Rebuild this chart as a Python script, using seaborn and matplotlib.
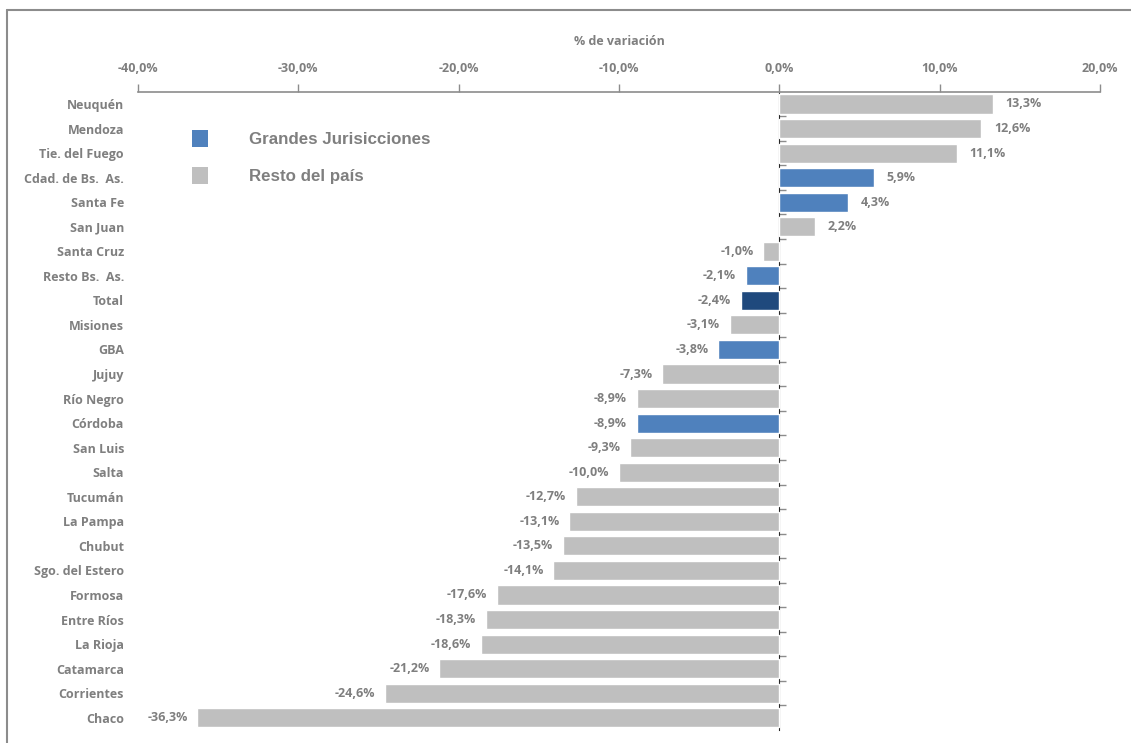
import matplotlib
matplotlib.use('Agg')
import matplotlib.pyplot as plt
import matplotlib.ticker as mticker
from matplotlib.lines import Line2D
from matplotlib.patches import Rectangle
import seaborn as sns
import pandas as pd

# datos: variación interanual por jurisdicción
provincias = ['Neuquén', 'Mendoza', 'Tie. del Fuego', 'Cdad. de Bs.  As.', 'Santa Fe',
              'San Juan', 'Santa Cruz', 'Resto Bs.  As.', 'Total', 'Misiones', 'GBA',
              'Jujuy', 'Río Negro', 'Córdoba', 'San Luis', 'Salta', 'Tucumán',
              'La Pampa', 'Chubut', 'Sgo. del Estero', 'Formosa', 'Entre Ríos',
              'La Rioja', 'Catamarca', 'Corrientes', 'Chaco']
variacion = [13.3, 12.6, 11.1, 5.9, 4.3, 2.2, -1.0, -2.1, -2.4, -3.1, -3.8,
             -7.3, -8.9, -8.9, -9.3, -10.0, -12.7, -13.1, -13.5, -14.1, -17.6,
             -18.3, -18.6, -21.2, -24.6, -36.3]
grupo = ['Resto', 'Resto', 'Resto', 'Grandes', 'Grandes', 'Resto', 'Resto', 'Grandes',
         'Total', 'Resto', 'Grandes', 'Resto', 'Resto', 'Grandes', 'Resto', 'Resto',
         'Resto', 'Resto', 'Resto', 'Resto', 'Resto', 'Resto', 'Resto', 'Resto',
         'Resto', 'Resto']
x_ticks = [-40, -30, -20, -10, 0, 10, 20]
leyenda = ['Grandes Jurisicciones', 'Resto del país']

colores = {'Grandes': '#4F81BD', 'Resto': '#BFBFBF', 'Total': '#1F497D'}
gris = '#7F7F7F'
linea = '#8C8C8C'
fs = 9

df = pd.DataFrame({'provincia': provincias, 'var': variacion, 'grupo': grupo})

sns.set_style('white')
plt.rcParams['font.family'] = ['Open Sans', 'DejaVu Sans']

W, H = 1131, 743
fig = plt.figure(figsize=(W / 100, H / 100), dpi=100)
ax = fig.add_axes([138 / W, 1 - 730 / H, 962 / W, (730 - 91.7) / H])

sns.barplot(data=df, x='var', y='provincia', hue='grupo', palette=colores,
            dodge=False, legend=False, orient='h', width=0.78, saturation=1, ax=ax)

ax.set_xlim(-40, 20)
ax.set_ylim(len(provincias) - 0.5, -0.5)

# eje x arriba
ax.xaxis.tick_top()
ax.xaxis.set_label_position('top')
ax.set_xticks(x_ticks)
ax.xaxis.set_major_formatter(mticker.FuncFormatter(lambda v, p: f'{v:.1f}%'.replace('.', ',')))
ax.tick_params(axis='x', direction='out', length=6, width=1, color=linea,
               labelsize=fs, labelcolor=gris, pad=6)
for lab in ax.get_xticklabels():
    lab.set_fontweight('bold')
ax.set_xlabel('% de variación', fontsize=fs, color=gris, fontweight='bold', labelpad=12)

# etiquetas del eje y a la izquierda, sin línea
ax.set_ylabel('')
ax.tick_params(axis='y', length=0, labelsize=fs, labelcolor=gris, pad=10)
for lab in ax.get_yticklabels():
    lab.set_fontweight('bold')

for s in ['left', 'right', 'bottom']:
    ax.spines[s].set_visible(False)
ax.spines['top'].set_color(linea)
ax.spines['top'].set_linewidth(1.2)

# eje vertical en el cero
sec = ax.secondary_yaxis(40 / 60)
sec.set_yticks([i + 0.5 for i in range(len(provincias) - 1)])
sec.set_yticklabels([])
sec.tick_params(axis='y', direction='out', length=5, width=1, color=linea)
sec.spines['left'].set_color(linea)
sec.spines['left'].set_linewidth(1.2)

# etiquetas de valores
for i, v in enumerate(variacion):
    txt = f'{v:.1f}%'.replace('.', ',')
    if v >= 0:
        ax.annotate(txt, (v, i), xytext=(9, 0), textcoords='offset points',
                    ha='left', va='center', fontsize=fs, color=gris, fontweight='bold')
    else:
        ax.annotate(txt, (v, i), xytext=(-7, 0), textcoords='offset points',
                    ha='right', va='center', fontsize=fs, color=gris, fontweight='bold')

# leyenda
for k, (nombre, clave) in enumerate(zip(leyenda, ['Grandes', 'Resto'])):
    y0 = 130 + 37 * k
    fig.add_artist(Rectangle((192 / W, 1 - (y0 + 17) / H), 16 / W, 17 / H,
                             transform=fig.transFigure, facecolor=colores[clave],
                             edgecolor='none'))
    fig.text(249 / W, 1 - (y0 + 10) / H, nombre, ha='left', va='center',
             family='Liberation Sans', fontweight='bold', fontsize=12.2, color=gris)

# marco del gráfico
fig.add_artist(Line2D([6.5 / W, 6.5 / W], [0, 1 - 9.5 / H],
                      transform=fig.transFigure, color=linea, lw=1.5))
fig.add_artist(Line2D([6.5 / W, 1], [1 - 9.5 / H, 1 - 9.5 / H],
                      transform=fig.transFigure, color=linea, lw=1.5))

fig.savefig('out.png', dpi=100)
